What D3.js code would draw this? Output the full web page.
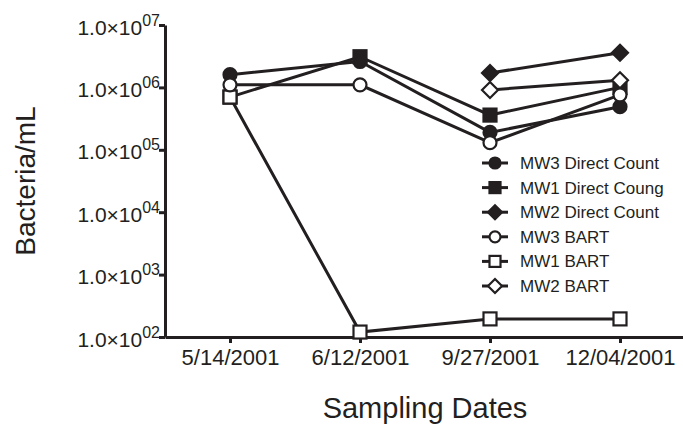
<!DOCTYPE html>
<html>
<head>
<meta charset="utf-8">
<script src="https://cdn.jsdelivr.net/npm/d3@7"></script>
<style>
  body { margin: 0; background: #fff; }
  text { font-family: "Liberation Sans", Arial, sans-serif; fill: #231f20; }
</style>
</head>
<body>
<svg width="683" height="425"></svg>
<script>
// sampling dates (x categories)
var dates = ["5/14/2001", "6/12/2001", "9/27/2001", "12/04/2001"];
// y tick values (log scale)
var yTicks = [1e2, 1e3, 1e4, 1e5, 1e6, 1e7];

// series values, bacteria/mL (null = not sampled)
var mw3Direct = [1.6e6, 2.6e6, 1.9e5, 4.9e5];
var mw1Direct = [7.0e5, 3.1e6, 3.6e5, 1.0e6];
var mw2Direct = [null, null, 1.7e6, 3.6e6];
var mw3Bart   = [1.1e6, 1.1e6, 1.3e5, 7.6e5];
var mw1Bart   = [7.0e5, 1.2e2, 1.95e2, 1.95e2];
var mw2Bart   = [null, null, 9.1e5, 1.3e6];

var seriesNames = ["MW3 Direct Count", "MW1 Direct Coung", "MW2 Direct Count",
                   "MW3 BART", "MW1 BART", "MW2 BART"];
var seriesData = [mw3Direct, mw1Direct, mw2Direct, mw3Bart, mw1Bart, mw2Bart];
var seriesShape = ["circle", "square", "diamond", "circle", "square", "diamond"];
var seriesFilled = [true, true, true, false, false, false];

var ink = "#231f20";

var svg = d3.select("svg"),
margin = {
    top: 25,
    right: -2,
    bottom: 88,
    left: 165
},
width = +svg.attr("width") - margin.left - margin.right,
height = +svg.attr("height") - margin.top - margin.bottom;

var g = svg.append("g")
    .attr("transform", "translate(" + margin.left + "," + margin.top + ")");

var x = d3.scalePoint().domain(dates).range([0, width]).padding(0.5);
var y = d3.scaleLog().domain([1e2, 1e7]).range([height, 0]);

// x axis
var xAxis = g.append("g")
    .attr("class", "axisx")
    .attr("transform", "translate(0," + height + ")")
    .call(d3.axisBottom(x).tickSize(6).tickSizeOuter(0).tickPadding(6));
xAxis.select(".domain").attr("stroke", ink).attr("stroke-width", 3);
xAxis.selectAll(".tick line").attr("stroke", ink).attr("stroke-width", 3);
xAxis.selectAll(".tick text")
    .style("font-size", "22px")
    .attr("fill", ink);

// y axis
var yAxis = g.append("g")
    .attr("class", "axisy")
    .call(d3.axisLeft(y).tickValues(yTicks).tickSize(6).tickSizeOuter(0).tickFormat(""));
yAxis.select(".domain").attr("stroke", ink).attr("stroke-width", 3);
yAxis.selectAll(".tick line").attr("stroke", ink).attr("stroke-width", 3);

// tick labels as 1.0x10^0n with superscript
yAxis.selectAll(".tick").each(function(d) {
    var t = d3.select(this).append("text")
        .attr("x", -5)
        .attr("y", 9)
        .attr("text-anchor", "end")
        .style("font-size", "21px")
        .attr("fill", ink);
    t.append("tspan").text("1.0\u00d710");
    t.append("tspan")
        .attr("dy", -9)
        .style("font-size", "16px")
        .text("0" + Math.round(Math.log10(d)));
});

// axis titles
svg.append("text")
    .attr("transform", "translate(35,181) rotate(-90)")
    .attr("text-anchor", "middle")
    .style("font-size", "28px")
    .text("Bacteria/mL");

svg.append("text")
    .attr("x", 425)
    .attr("y", 418)
    .attr("text-anchor", "middle")
    .style("font-size", "29px")
    .text("Sampling Dates");

// marker drawing
function marker(sel, shape, filled, size) {
    var m;
    if (shape === "circle") {
        m = sel.append("circle").attr("r", size / 2);
    } else if (shape === "square") {
        m = sel.append("rect")
            .attr("x", -size / 2).attr("y", -size / 2)
            .attr("width", size).attr("height", size);
    } else {
        var h = size / 2 + 1.5;
        m = sel.append("path")
            .attr("d", "M0," + (-h) + "L" + h + ",0L0," + h + "L" + (-h) + ",0Z");
    }
    m.attr("fill", filled ? ink : "#fff")
        .attr("stroke", ink)
        .attr("stroke-width", 2.2);
    return m;
}

var line = d3.line()
    .defined(function(d) { return d != null; })
    .x(function(d, i) { return x(dates[i]); })
    .y(function(d) { return y(d); });

// draw order: direct counts first, bart series on top
var order = [1, 2, 0, 5, 4, 3];
order.forEach(function(k) {
    var s = g.append("g").attr("class", "series");
    s.append("path")
        .datum(seriesData[k])
        .attr("fill", "none")
        .attr("stroke", ink)
        .attr("stroke-width", 3)
        .attr("d", line);
    s.selectAll(".pt")
        .data(seriesData[k].map(function(v, i) { return {v: v, i: i}; })
            .filter(function(d) { return d.v != null; }))
        .enter().append("g")
        .attr("class", "pt")
        .attr("transform", function(d) {
            return "translate(" + x(dates[d.i]) + "," + y(d.v) + ")";
        })
        .each(function() {
            marker(d3.select(this), seriesShape[k], seriesFilled[k], 13);
        });
});

// legend
var legend = svg.append("g")
    .attr("transform", "translate(482,163)");
seriesNames.forEach(function(name, k) {
    var row = legend.append("g")
        .attr("transform", "translate(0," + (k * 24.6) + ")");
    row.append("line")
        .attr("x1", 0).attr("x2", 26)
        .attr("stroke", ink).attr("stroke-width", 3);
    var mg = row.append("g").attr("transform", "translate(13,0)");
    marker(mg, seriesShape[k], seriesFilled[k], 11);
    row.append("text")
        .attr("x", 38)
        .attr("y", 6)
        .style("font-size", "17px")
        .attr("fill", ink)
        .text(name);
});
</script>
</body>
</html>
